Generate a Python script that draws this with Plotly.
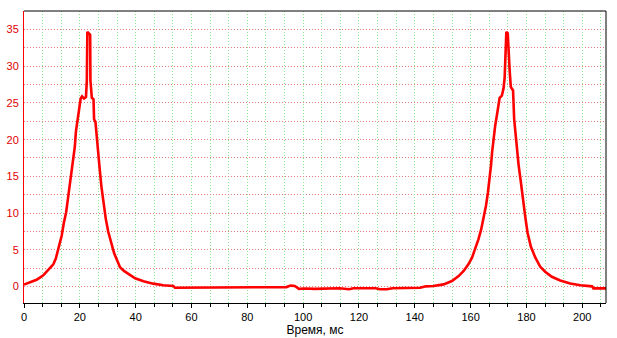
import plotly.graph_objects as go

# time, ms
time_ms = [0.0, 0.4, 1.5, 3.3, 4.5, 5.7, 6.9, 8.1, 9.3, 10.5, 11.4, 12.3, 13.0, 13.5, 14.3, 15.1,
           15.9, 16.7, 17.5, 18.2, 18.6, 19.2, 19.8, 20.3, 20.8, 21.5, 22.2, 22.5, 22.7, 23.3,
           23.7, 23.8, 24.0, 24.3, 24.9, 25.1, 25.6, 26.1, 26.5, 27.0, 27.7, 28.4, 29.3, 30.2,
           31.4, 32.3, 33.2, 34.4, 35.8, 37.4, 39.8, 42.8, 46.3, 49.9, 53.5, 54.1, 58.0, 62.0,
           66.0, 70.0, 72.0, 74.0, 78.0, 82.0, 86.0, 90.0, 94.0, 95.5, 97.0, 98.5, 101.0,
           104.0, 107.0, 110.0, 113.0, 116.5, 118.0, 122.0, 126.0, 127.5, 130.0, 132.0, 135.0,
           138.0, 141.9, 144.0, 146.7, 150.3, 153.3, 155.7, 157.5, 159.2, 160.5, 161.6, 162.8,
           163.8, 164.6, 165.5, 166.2, 166.8, 167.3, 167.7, 168.2, 168.8, 169.4, 170.0, 170.4,
           171.2, 171.8, 172.2, 172.5, 172.8, 173.3, 173.6, 174.0, 174.4, 175.2, 175.6, 176.3,
           176.8, 177.2, 178.0, 178.7, 179.6, 180.4, 181.6, 183.2, 184.9, 186.7, 189.1, 192.1,
           195.7, 199.3, 203.5, 204.0, 205.3, 208.5]
# signal
signal = [0.25, 0.3, 0.45, 0.7, 0.9, 1.2, 1.5, 2.0, 2.5, 3.0, 3.8, 5.0, 6.0, 6.9, 8.7, 10.1,
          12.4, 14.6, 16.9, 19.0, 21.1, 22.8, 24.5, 25.6, 25.9, 25.6, 25.8, 28.0, 34.7, 34.5,
          34.3, 28.1, 27.0, 25.7, 25.5, 22.8, 22.4, 19.9, 18.3, 16.5, 13.7, 11.5, 9.2, 7.4,
          5.5, 4.5, 3.7, 2.6, 2.1, 1.7, 1.1, 0.7, 0.37, 0.14, 0.05, -0.2, -0.2, -0.2,
          -0.2, -0.15, -0.1, -0.2, -0.2, -0.15, -0.2, -0.2, -0.1, 0.1, 0.05, -0.35, -0.3,
          -0.35, -0.3, -0.35, -0.25, -0.4, -0.25, -0.25, -0.25, -0.4, -0.4, -0.25, -0.25,
          -0.25, -0.2, 0.0, 0.05, 0.27, 0.73, 1.4, 2.1, 3.0, 3.9, 5.1, 6.4,
          7.8, 9.2, 11.0, 12.8, 14.6, 16.5, 18.3, 20.1, 21.9, 23.3, 24.7, 25.7,
          26.0, 27.0, 28.5, 33.0, 34.7, 34.5, 31.0, 29.3, 27.2, 26.7, 22.8, 19.7,
          17.4, 16.5, 14.2, 11.9, 9.4, 7.3, 5.4, 3.9, 2.7, 2.0, 1.3, 0.8,
          0.4, 0.14, 0.0, -0.27, -0.27, -0.27]

x_ticks = [0, 20, 40, 60, 80, 100, 120, 140, 160, 180, 200]
y_ticks = [0, 5, 10, 15, 20, 25, 30, 35]
x_title = "Время, мс"

fig = go.Figure()
fig.add_trace(go.Scatter(x=time_ms, y=signal, mode="lines",
                         line=dict(color="#FF0000", width=2.6), hoverinfo="skip"))

font = "Liberation Sans, Arial, sans-serif"
fig.update_layout(
    width=617, height=338,
    margin=dict(l=24, r=11, t=11, b=35),
    paper_bgcolor="white", plot_bgcolor="white",
    showlegend=False,
    font=dict(family=font, size=11, color="black"),
    xaxis=dict(
        range=[0, 208.5], tickmode="array", tickvals=x_ticks,
        ticktext=[str(v) for v in x_ticks], automargin=False,
        showline=True, linecolor="black", linewidth=1,
        ticks="outside", ticklen=4, tickcolor="black",
        showgrid=True, gridcolor="#8CE88C", griddash="1px,2px", gridwidth=1,
        zeroline=False,
        minor=dict(dtick=20 / 3, tick0=0, showgrid=True, gridcolor="#8CE88C",
                   griddash="1px,2px", ticks="outside", ticklen=3, tickcolor="black"),
        tickfont=dict(size=11, color="black"),
        title=dict(text=x_title, font=dict(size=12, color="black"), standoff=2),
    ),
    yaxis=dict(
        range=[-2.27, 37.54], tickmode="array", tickvals=y_ticks, automargin=False,
        showline=True, linecolor="#FF0000", linewidth=1,
        ticks="", showgrid=True, gridcolor="#E47C7C", griddash="1px,2px", gridwidth=1,
        zeroline=False,
        minor=dict(dtick=2.5, tick0=0, showgrid=True, gridcolor="#E47C7C",
                   griddash="1px,2px"),
        tickfont=dict(size=11, color="#E00000"),
        ticklabelstandoff=2,
    ),
    shapes=[
        dict(type="line", xref="paper", yref="paper", x0=0, x1=1, y0=1, y1=1,
             line=dict(color="black", width=1)),
        dict(type="line", xref="paper", yref="paper", x0=1, x1=1, y0=0, y1=1,
             line=dict(color="black", width=1)),
    ],
)

fig.write_html("out.html", config={"displayModeBar": False},
               post_script="document.body.style.margin='0';")
